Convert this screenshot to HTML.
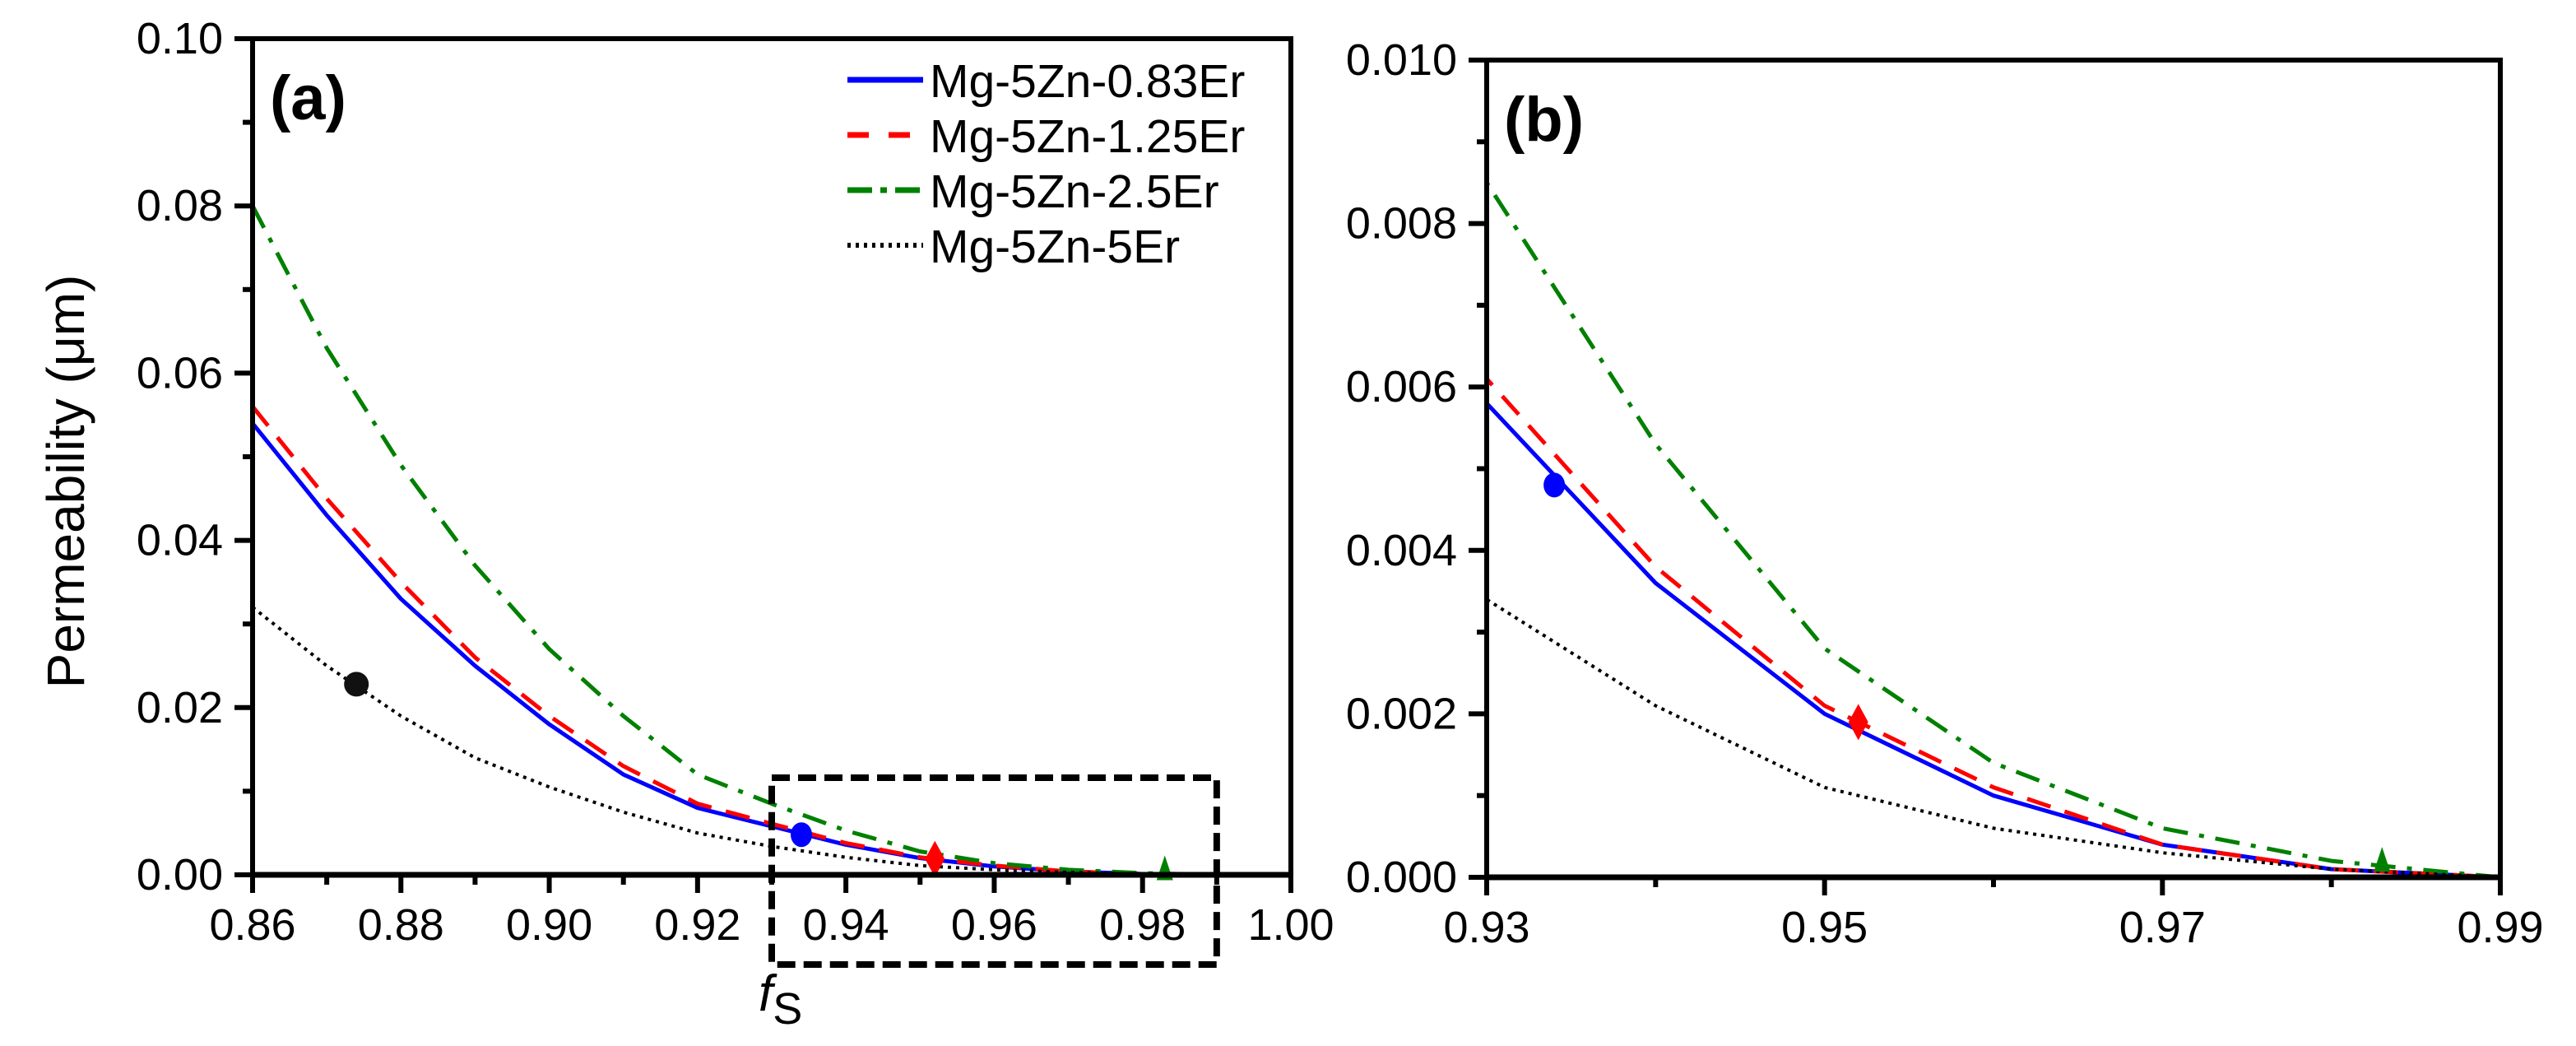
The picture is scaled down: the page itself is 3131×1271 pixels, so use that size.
<!DOCTYPE html>
<html><head><meta charset="utf-8"><style>
html,body{margin:0;padding:0;background:#fff;}
svg{display:block;font-family:"Liberation Sans",sans-serif;}
</style></head><body>
<svg id="chart" width="3131" height="1271" viewBox="0 0 3131 1271"></svg>
<script>
const xs = [0.86,0.87,0.88,0.89,0.90,0.91,0.92,0.93,0.94,0.95,0.96,0.97,0.98,0.99,1.00];
const blueVals  = [0.054,0.043,0.033,0.025,0.018,0.012,0.008,0.0058,0.0036,0.0020,0.0010,0.0004,0.0001,0.0,0.0];
const redVals   = [0.056,0.045,0.035,0.026,0.019,0.013,0.0085,0.0061,0.0038,0.0021,0.0011,0.0004,0.0001,0.0,0.0];
const greenVals = [0.080,0.063,0.049,0.037,0.027,0.019,0.012,0.0085,0.0053,0.0028,0.0014,0.0006,0.0002,0.0,0.0];
const blackVals = [0.032,0.025,0.019,0.014,0.0105,0.0075,0.005,0.0034,0.0021,0.0011,0.0006,0.0003,0.0001,0.0,0.0];
const seriesNames = ["Mg-5Zn-0.83Er","Mg-5Zn-1.25Er","Mg-5Zn-2.5Er","Mg-5Zn-5Er"];
const markerX = [0.934,0.952,0.983,0.874];
const markerY = [0.0048,0.0019,0.00015,0.0228];
const ticksAX = ["0.86","0.88","0.90","0.92","0.94","0.96","0.98","1.00"];
const ticksAY = ["0.00","0.02","0.04","0.06","0.08","0.10"];
const ticksBX = ["0.93","0.95","0.97","0.99"];
const ticksBY = ["0.000","0.002","0.004","0.006","0.008","0.010"];

const NS="http://www.w3.org/2000/svg";
const svg=document.getElementById('chart');
function mk(tag,attrs,parent){const e=document.createElementNS(NS,tag);for(const k in attrs)e.setAttribute(k,attrs[k]);(parent||svg).appendChild(e);return e;}
function txt(str,x,y,size,anchor,parent,extra){
  const t=mk('text',Object.assign({x:x,y:y,'font-size':size,'text-anchor':anchor},extra||{}),parent);
  t.textContent=str;return t;
}

const styles=[
 {c:"#0000ff",w:5,d:""},
 {c:"#ff0000",w:5,d:"30 18"},
 {c:"#008000",w:5,d:"30 14 6 14"},
 {c:"#000000",w:4,d:"4 6"}];
const allVals=[blueVals,redVals,greenVals,blackVals];

function panel(p){
  const g=mk('g',{});
  
  
  const X=v=>p.x0+(v-p.xmin)/(p.xmax-p.xmin)*(p.x1-p.x0);
  const Y=v=>p.y1-(v-p.ymin)/(p.ymax-p.ymin)*(p.y1-p.y0);
  const cid='clip-'+p.name;
  const cp=mk('clipPath',{id:cid},g);mk('rect',{x:p.x0,y:p.y0-10,width:p.x1-p.x0,height:p.y1-p.y0+10},cp);
  const lg=mk('g',{'clip-path':'url(#'+cid+')'},g);
  allVals.forEach((vals,i)=>{
    let d="";xs.forEach((x,j)=>{d+=(j?"L":"M")+X(x).toFixed(1)+","+Y(vals[j]).toFixed(1);});
    const s=styles[i];
    const path=mk('path',{d:d,fill:'none',stroke:s.c,'stroke-width':s.w,'stroke-dasharray':s.d,'stroke-linejoin':'round'},lg);
    
    
  });
  markerX.forEach((mx,i)=>{
    if(mx<p.xmin||mx>p.xmax)return;
    const cx=X(mx),cy=Y(markerY[i]);let m;
    if(i===0)m=mk('ellipse',{cx:cx,cy:cy,rx:13,ry:15,fill:'#0000ff'},g);
    else if(i===1)m=mk('polygon',{points:`${cx},${cy-22} ${cx+12},${cy} ${cx},${cy+22} ${cx-12},${cy}`,fill:'#ff0000'},g);
    else if(i===2)m=mk('polygon',{points:`${cx},${cy-22} ${cx+10},${cy+8} ${cx-10},${cy+8}`,fill:'#008000'},g);
    else m=mk('circle',{cx:cx,cy:cy,r:15,fill:'#111'},g);
    
    
  });
  const fr=mk('g',{},g);
  
  mk('line',{x1:p.x0-3,y1:p.y0,x2:p.x1+3,y2:p.y0,stroke:'#000','stroke-width':6},fr);
  mk('line',{x1:p.x0-3,y1:p.y1,x2:p.x1+3,y2:p.y1,stroke:'#000','stroke-width':7},fr);
  mk('line',{x1:p.x0,y1:p.y0,x2:p.x0,y2:p.y1,stroke:'#000','stroke-width':6},fr);
  mk('line',{x1:p.x1,y1:p.y0,x2:p.x1,y2:p.y1,stroke:'#000','stroke-width':6},fr);
  const xa=mk('g',{},g);
  p.xt.forEach((t,i)=>{
    const v=parseFloat(t),x=X(v);
    mk('line',{x1:x,y1:p.y1,x2:x,y2:p.y1+22,stroke:'#000','stroke-width':6},xa);
    txt(t,x,p.y1+79,54,'middle',xa);
    if(i<p.xt.length-1){const xm=X(v+p.xminor);mk('line',{x1:xm,y1:p.y1,x2:xm,y2:p.y1+12,stroke:'#000','stroke-width':6},xa);}
  });
  const ya=mk('g',{},g);
  p.yt.forEach((t,i)=>{
    const v=parseFloat(t),y=Y(v);
    mk('line',{x1:p.x0-22,y1:y,x2:p.x0,y2:y,stroke:'#000','stroke-width':6},ya);
    txt(t,p.x0-36,y+18,54,'end',ya);
    if(i<p.yt.length-1){const ym=Y(v+p.yminor);mk('line',{x1:p.x0-12,y1:ym,x2:p.x0,y2:ym,stroke:'#000','stroke-width':6},ya);}
  });
  const lab=txt(p.label,p.x0+21,p.y0+98,76,'start',g,{'font-weight':'bold'});
  
  return {X,Y};
}
const A=panel({name:'panel-a',label:'(a)',x0:307,x1:1569,y0:47,y1:1063,xmin:0.86,xmax:1.00,ymin:0,ymax:0.10,xt:ticksAX,yt:ticksAY,xminor:0.01,yminor:0.01});
panel({name:'panel-b',label:'(b)',x0:1807,x1:3039,y0:73,y1:1066,xmin:0.93,xmax:0.99,ymin:0,ymax:0.010,xt:ticksBX,yt:ticksBY,xminor:0.01,yminor:0.001});

const box=mk('rect',{x:A.X(0.93),y:945,width:A.X(0.99)-A.X(0.93),height:227,fill:'none',stroke:'#000','stroke-width':8,'stroke-dasharray':'22 10'});

const fs=mk('text',{x:A.X(0.93)-16,y:1228,'font-size':62,'font-style':'italic'});
fs.innerHTML='f<tspan font-style="normal" font-size="54" dy="16">S</tspan>';


const yt=mk('text',{x:0,y:0,'font-size':64,'text-anchor':'middle',transform:'translate(102,585) rotate(-90)'});
yt.textContent='Permeability (μm)';


const leg=mk('g',{});
seriesNames.forEach((n,i)=>{
  const y=97+i*67;const s=styles[i];
  const e=mk('g',{},leg);
  
  mk('line',{x1:1030,y1:y,x2:1122,y2:y,stroke:s.c,'stroke-width':s.w+2,'stroke-dasharray':i===1?'26 24':i===2?'30 10 8 10':s.d},e);
  txt(n,1130,y+21,57,'start',e);
});
</script>
</body></html>
